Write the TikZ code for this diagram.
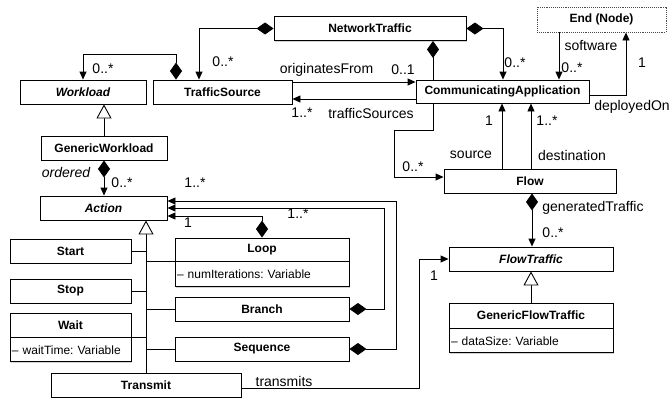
\documentclass[tikz,border=0pt]{standalone}
\usepackage{fontspec}
\setmainfont{Liberation Sans}
\usetikzlibrary{arrows.meta,shadows}
\frenchspacing

\tikzset{
  cls/.style={draw, line width=0.9pt, fill=white, inner sep=0pt, minimum height=24pt,
    drop shadow={shadow xshift=1.2pt, shadow yshift=-1.2pt, opacity=0.35},
    font=\fontsize{12}{14}\selectfont\bfseries},
  abscls/.style={cls, font=\fontsize{12}{14}\selectfont\bfseries\itshape},
  attrbox/.style={draw, line width=0.9pt, fill=white, anchor=north, inner sep=2pt,
    minimum height=24pt, align=left,
    drop shadow={shadow xshift=1.2pt, shadow yshift=-1.2pt, opacity=0.35},
    font=\fontsize{12}{14}\selectfont},
  endbox/.style={draw=black!70, densely dotted, line width=0.9pt, fill=white,
    inner sep=0pt, font=\fontsize{12}{14}\selectfont\bfseries},
  lbl/.style={inner sep=0pt, font=\fontsize{14}{16}\selectfont},
  assoc/.style={line width=0.9pt, -{Triangle[length=8pt,width=7pt]}},
  comp/.style={line width=0.9pt, {Diamond[length=17pt,width=12pt]}-{Triangle[length=8pt,width=7pt]}},
  gen/.style={line width=0.9pt, -{Triangle[open,length=14pt,width=15pt,fill=white]}},
  tree/.style={line width=0.9pt},
}

\begin{document}
\begin{tikzpicture}[x=1pt, y=-1pt]
    \useasboundingbox (0,0) rectangle (670,400);

    % classes
    \node[cls, minimum width=192pt] (nettraffic) at (370,28.5) {NetworkTraffic};
    \node[endbox, minimum width=129pt, minimum height=25pt] (endnode) at (601.5,19.5) {End (Node)};
    \node[abscls, minimum width=126pt] (workload) at (83,92) {Workload};
    \node[cls, minimum width=139pt] (trafficsrc) at (222.5,92) {TrafficSource};
    \node[cls, minimum width=173pt, minimum height=23pt] (commapp) at (502.5,91.5) {CommunicatingApplication};
    \node[cls, minimum width=126pt] (genworkload) at (104,148) {GenericWorkload};
    \node[cls, minimum width=172pt] (flow) at (530,181) {Flow};
    \node[abscls, minimum width=127pt] (action) at (103.5,208) {Action};
    \node[abscls, minimum width=164pt] (flowtraffic) at (531,259) {FlowTraffic};
    \node[cls, minimum width=164pt, minimum height=25pt] (genflow) at (531,315.5) {GenericFlowTraffic};
    \node[attrbox, text width=160pt] (genflowattr) at (genflow.south) {-- dataSize: Variable};

    % actions
    \node[cls, minimum width=121pt] (start) at (70.5,251) {Start};
    \node[cls, minimum width=121pt] (stop) at (70.5,291) {Stop};
    \node[cls, minimum width=121pt] (wait) at (70.5,325) {Wait};
    \node[attrbox, text width=117pt] (waitattr) at (wait.south) {-- waitTime: Variable};
    \node[cls, minimum width=174pt, minimum height=23pt] (loop) at (262,249.5) {Loop};
    \node[attrbox, text width=170pt, minimum height=25pt] (loopattr) at (loop.south) {-- numIterations: Variable};
    \node[cls, minimum width=174pt] (branch) at (262,309) {Branch};
    \node[cls, minimum width=174pt] (sequence) at (262,349) {Sequence};
    \node[cls, minimum width=190pt] (transmit) at (146,385) {Transmit};

    % NetworkTraffic
    \draw[comp] (nettraffic.west) -| ([xshift=-23.5pt]trafficsrc.north);
    \draw[comp] (nettraffic.east) -| ([xshift=0.5pt]commapp.north);
    \draw[line width=0.9pt, {Diamond[length=17pt,width=12pt]}-] ([xshift=63pt]nettraffic.south) -- ([xshift=-69.5pt]commapp.north);

    % workload
    \draw[comp] ([xshift=-46.5pt]trafficsrc.north) -- ++(0,-25) -| (workload.north);
    \draw[gen] (genworkload.north) -- (genworkload.north |- workload.south);
    \draw[comp] (genworkload.south) -- (genworkload.south |- action.north);

    % traffic source <-> application
    \draw[assoc] ([yshift=10pt]trafficsrc.east) -- ([yshift=10pt]trafficsrc.east -| commapp.west);
    \draw[assoc] ([yshift=-7.5pt]commapp.west) -- ([yshift=-7.5pt]commapp.west -| trafficsrc.east);

    % application, flow, end node
    \draw[assoc] ([xshift=-69.5pt]commapp.south) -- ++(0,27) -- ++(-39,0) |- ([yshift=4pt]flow.west);
    \draw[assoc] ([xshift=-28pt]flow.north) -- ([xshift=-28pt]flow.north |- commapp.south);
    \draw[assoc] ([xshift=1pt]flow.north) -- ([xshift=1pt]flow.north |- commapp.south);
    \draw[assoc] ([xshift=-42.5pt]endnode.south) -- ([xshift=-42.5pt]endnode.south |- commapp.north);
    \draw[assoc] ([yshift=-3.5pt]commapp.east) -| ([xshift=24.5pt]endnode.south);
    \draw[comp] ([xshift=2pt]flow.south) -- ([xshift=2pt]flow.south |- flowtraffic.north);
    \draw[gen] (genflow.north) -- (genflow.north |- flowtraffic.south);
    \draw[assoc] ([yshift=-3pt]transmit.east) -- ++(178,0) |- (flowtraffic.west);

    % action containers
    \draw[comp] (sequence.east) -- ++(47,0) |- ([yshift=7pt]action.east);
    \draw[comp] (branch.east) -- ++(35,0) |- (action.east);
    \draw[comp] (loop.north) |- ([yshift=-8pt]action.east);

    % action subclasses
    \draw[gen] (transmit.north) -- (transmit.north |- action.south);
    \foreach \n in {start.east, stop.east, wait.south east, loop.south west, branch.west, sequence.west}
        \draw[tree] (\n) -- (\n -| transmit.north);

    % labels
    \node[lbl] (l1) at (223,62) {0..*};
    \node[lbl] (l2) at (103,69) {0..*};
    \node[lbl] (l3) at (326.5,70) {originatesFrom};
    \node[lbl] (l4) at (403,70) {0..1};
    \node[lbl] (l5) at (302,113) {1..*};
    \node[lbl] (l6) at (371,113) {trafficSources};
    \node[lbl] (l7) at (515,63) {0..*};
    \node[lbl] (l8) at (572,68) {0..*};
    \node[lbl] (l9) at (591,45) {software};
    \node[lbl] (l10) at (642,63) {1};
    \node[lbl] (l11) at (632,107) {deployedOn};
    \node[lbl] (l12) at (489,121) {1};
    \node[lbl] (l13) at (547,121) {1..*};
    \node[lbl] (l14) at (471,155) {source};
    \node[lbl] (l15) at (572,155) {destination};
    \node[lbl] (l16) at (413,167) {0..*};
    \node[lbl, font=\fontsize{14}{16}\selectfont\itshape] (l17) at (66,172) {ordered};
    \node[lbl] (l18) at (122,183) {0..*};
    \node[lbl] (l19) at (195,183) {1..*};
    \node[lbl] (l20) at (298,214) {1..*};
    \node[lbl] (l21) at (188,223) {1};
    \node[lbl] (l22) at (593,208) {generatedTraffic};
    \node[lbl] (l23) at (553,233) {0..*};
    \node[lbl] (l24) at (434,276) {1};
    \node[lbl] (l25) at (284,381) {transmits};
\end{tikzpicture}
\end{document}
